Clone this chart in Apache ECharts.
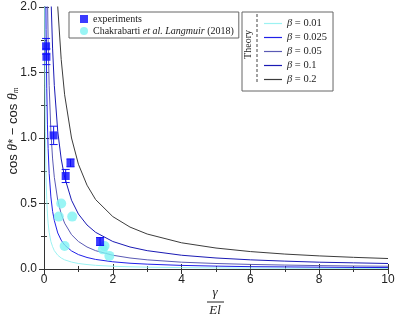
<!DOCTYPE html>
<html><head><meta charset="utf-8">
<script src="https://cdn.jsdelivr.net/npm/echarts@6/dist/echarts.min.js"></script>
<style>html,body{margin:0;padding:0;background:#fff}#c{width:399px;height:318px}</style>
</head><body><div id="c"></div>
<script>
// ---- data ----
const xs      = [0.02, 0.025, 0.03, 0.04, 0.05, 0.06, 0.08, 0.1, 0.12, 0.15, 0.2, 0.25, 0.3, 0.4, 0.5, 0.6, 0.8, 1, 1.25, 1.5, 2, 2.5, 3, 4, 5, 6, 7, 8, 9, 10];
const beta001 = [2.1, 1.7, 1.4, 1.05, 0.84, 0.70, 0.53, 0.42, 0.35, 0.28, 0.21, 0.17, 0.14, 0.105, 0.084, 0.07, 0.053, 0.042, 0.034, 0.028, 0.021, 0.017, 0.014, 0.0105, 0.0084, 0.007, 0.006, 0.0053, 0.0047, 0.0042];
const beta0025= [5.5, 4.4, 3.7, 2.75, 2.2, 1.83, 1.38, 1.1, 0.92, 0.73, 0.55, 0.44, 0.37, 0.275, 0.22, 0.183, 0.138, 0.11, 0.088, 0.073, 0.055, 0.044, 0.037, 0.0275, 0.022, 0.018, 0.016, 0.014, 0.012, 0.011];
const beta005 = [10.5, 8.4, 7.0, 5.25, 4.2, 3.5, 2.62, 2.1, 1.75, 1.4, 1.05, 0.84, 0.70, 0.525, 0.42, 0.35, 0.262, 0.21, 0.168, 0.14, 0.105, 0.084, 0.07, 0.052, 0.042, 0.035, 0.03, 0.026, 0.023, 0.021];
const beta01  = [21, 16.8, 14, 10.5, 8.4, 7.0, 5.25, 4.2, 3.5, 2.8, 2.1, 1.68, 1.40, 1.05, 0.84, 0.70, 0.525, 0.42, 0.336, 0.28, 0.21, 0.168, 0.14, 0.105, 0.084, 0.07, 0.06, 0.052, 0.047, 0.042];
const beta02  = [40, 32, 26.7, 20, 16, 13.3, 10, 8.0, 6.7, 5.3, 4.0, 3.2, 2.67, 2.0, 1.6, 1.33, 1.0, 0.80, 0.64, 0.53, 0.40, 0.32, 0.267, 0.20, 0.16, 0.133, 0.114, 0.10, 0.089, 0.08];

const expX   = [0.06, 0.07, 0.28, 0.63, 0.77, 1.63];
const expY   = [1.70, 1.62, 1.02, 0.71, 0.81, 0.21];
const expErr = [0.06, 0.06, 0.07, 0.05, 0.03, 0.03];

const chakX = [0.50, 0.43, 0.82, 0.60, 1.76, 1.71, 1.90];
const chakY = [0.50, 0.40, 0.40, 0.175, 0.175, 0.15, 0.10];

const xTicks = [0, 2, 4, 6, 8, 10];
const yTicks = ['0.0', '0.5', '1.0', '1.5', '2.0'];

const betaNames = ['β = 0.01', 'β = 0.025', 'β = 0.05', 'β = 0.1', 'β = 0.2'];
const betaData  = [beta001, beta0025, beta005, beta01, beta02];
const betaColors = ['#9cf2f2', '#2020e8', '#5a5ab4', '#1a1ab4', '#3c3c3c'];
const chakName = 'Chakrabarti et al. Langmuir (2018)';

// ---- chart ----
const chart = echarts.init(document.getElementById('c'), null, {renderer: 'canvas'});
const serif = 'Liberation Serif';
const sans = 'Liberation Sans';

const lineSeries = betaNames.map((n, k) => ({
  name: n, type: 'line', symbol: 'none', clip: true, z: 2,
  lineStyle: {color: betaColors[k], width: 1}, itemStyle: {color: betaColors[k]},
  data: xs.map((x, i) => [x, betaData[k][i]])
}));

const commonAxisLine = {show: true, lineStyle: {color: '#333', width: 1}};
const tick = {inside: true, length: 5, lineStyle: {color: '#333'}};
const minor = {show: true, splitNumber: 2, length: 3, lineStyle: {color: '#333'}};

chart.setOption({
  animation: false,
  grid: {left: 44, right: 11, top: 7, bottom: 49, containLabel: false, outerBoundsMode: 'none'},
  xAxis: [{
    type: 'value', min: 0, max: 10, interval: 2,
    axisLine: commonAxisLine, axisTick: tick, minorTick: minor,
    splitLine: {show: false},
    axisLabel: {margin: 5, fontFamily: sans, fontSize: 12, color: '#222',
      formatter: v => xTicks.indexOf(v) >= 0 ? String(v) : ''}
  }, {
    type: 'value', min: 0, max: 10, interval: 2, position: 'top',
    axisLine: commonAxisLine, axisTick: tick, minorTick: minor,
    splitLine: {show: false}, axisLabel: {show: false}
  }],
  yAxis: [{
    type: 'value', min: 0, max: 2, interval: 0.5,
    axisLine: commonAxisLine, axisTick: tick, minorTick: minor,
    splitLine: {show: false},
    axisLabel: {margin: 7, fontFamily: sans, fontSize: 12, color: '#222',
      formatter: v => yTicks[Math.round(v / 0.5)]}
  }, {
    type: 'value', min: 0, max: 2, interval: 0.5, position: 'right',
    axisLine: commonAxisLine, axisTick: tick, minorTick: minor,
    splitLine: {show: false}, axisLabel: {show: false}
  }],
  legend: [{
    data: ['experiments', chakName], orient: 'vertical',
    left: 69, top: 12, padding: [2, 5, 2, 11],
    itemWidth: 8, itemHeight: 8, itemGap: 2, itemTextGap: 10,
    borderColor: '#666', borderWidth: 1, backgroundColor: '#fff',
    textStyle: {fontFamily: serif, fontSize: 10, lineHeight: 10, color: '#222',
      rich: {n: {fontFamily: serif, fontSize: 10, lineHeight: 10, color: '#222'},
             i: {fontFamily: serif, fontStyle: 'italic', fontSize: 10, lineHeight: 10, color: '#222'}}},
    formatter: n => n === chakName ? '{n|Chakrabarti }{i|et al. Langmuir}{n| (2018)}' : '{n|' + n + '}'
  }, {
    data: betaNames.map(n => ({name: n, icon: 'rect'})), orient: 'vertical',
    left: 242, top: 12, padding: [6, 6, 6, 22],
    itemWidth: 18, itemHeight: 1.2, itemGap: 3, itemTextGap: 5,
    borderColor: '#666', borderWidth: 1, backgroundColor: '#fff',
    textStyle: {fontFamily: serif, fontSize: 10.5, lineHeight: 10, color: '#222',
      rich: {b: {fontFamily: serif, fontStyle: 'italic', fontSize: 10.5, lineHeight: 10, color: '#222'},
             n: {fontFamily: serif, fontSize: 10.5, lineHeight: 10, color: '#222'}}},
    formatter: n => '{b|β}{n|' + n.slice(1) + '}'
  }],
  graphic: [
    {type: 'text', x: 13, y: 131, rotation: Math.PI / 2, z: 100,
      style: {x: 0, y: 0, align: 'center', verticalAlign: 'middle',
        text: '{a|cos }{g|θ}{a|* − cos }{g|θ}{s|m}',
        rich: {
          a: {fontFamily: sans, fontSize: 13, fill: '#222'},
          g: {fontFamily: serif, fontStyle: 'italic', fontSize: 14, fill: '#222'},
          s: {fontFamily: serif, fontStyle: 'italic', fontSize: 8, fill: '#222', padding: [6, 0, 0, 0]}
        }}},
    {type: 'text', left: 243, top: 30, rotation: Math.PI / 2, z: 100,
      style: {text: 'Theory', font: '10px "Liberation Serif"', fill: '#222'}},
    {type: 'line', z: 100, shape: {x1: 257, y1: 14, x2: 257, y2: 82},
      style: {stroke: '#444', lineWidth: 1, lineDash: [3, 2]}},
    {type: 'text', z: 100, style: {text: 'γ', x: 215, y: 293, align: 'center', verticalAlign: 'middle',
      font: 'italic 13px "Liberation Serif"', fill: '#222'}},
    {type: 'line', z: 100, shape: {x1: 207, y1: 302, x2: 224, y2: 302}, style: {stroke: '#222', lineWidth: 1}},
    {type: 'text', z: 100, style: {text: 'El', x: 215, y: 311, align: 'center', verticalAlign: 'middle',
      font: 'italic 13px "Liberation Serif"', fill: '#222'}}
  ],
  series: [
    ...lineSeries,
    {name: chakName, type: 'scatter', symbol: 'circle', symbolSize: 10, z: 4,
      itemStyle: {color: '#7ff3f3'},
      data: chakX.map((x, i) => [x, chakY[i]])},
    {name: 'experiments-err', type: 'custom', z: 5,
      renderItem: (params, api) => {
        const x = api.value(0), lo = api.value(1), hi = api.value(2);
        const pLo = api.coord([x, lo]), pHi = api.coord([x, hi]);
        const c = '#1414f0', w = 4;
        return {type: 'group', children: [
          {type: 'line', shape: {x1: pLo[0], y1: pLo[1], x2: pHi[0], y2: pHi[1]}, style: {stroke: c, lineWidth: 1}},
          {type: 'line', shape: {x1: pLo[0] - w, y1: pLo[1], x2: pLo[0] + w, y2: pLo[1]}, style: {stroke: c, lineWidth: 1}},
          {type: 'line', shape: {x1: pHi[0] - w, y1: pHi[1], x2: pHi[0] + w, y2: pHi[1]}, style: {stroke: c, lineWidth: 1}}
        ]};
      },
      data: expX.map((x, i) => [x, expY[i] - expErr[i], expY[i] + expErr[i]])},
    {name: 'experiments', type: 'scatter', symbol: 'rect', symbolSize: 8, z: 6,
      itemStyle: {color: '#0a0aff'},
      data: expX.map((x, i) => [x, expY[i]])}
  ]
});
</script></body></html>
